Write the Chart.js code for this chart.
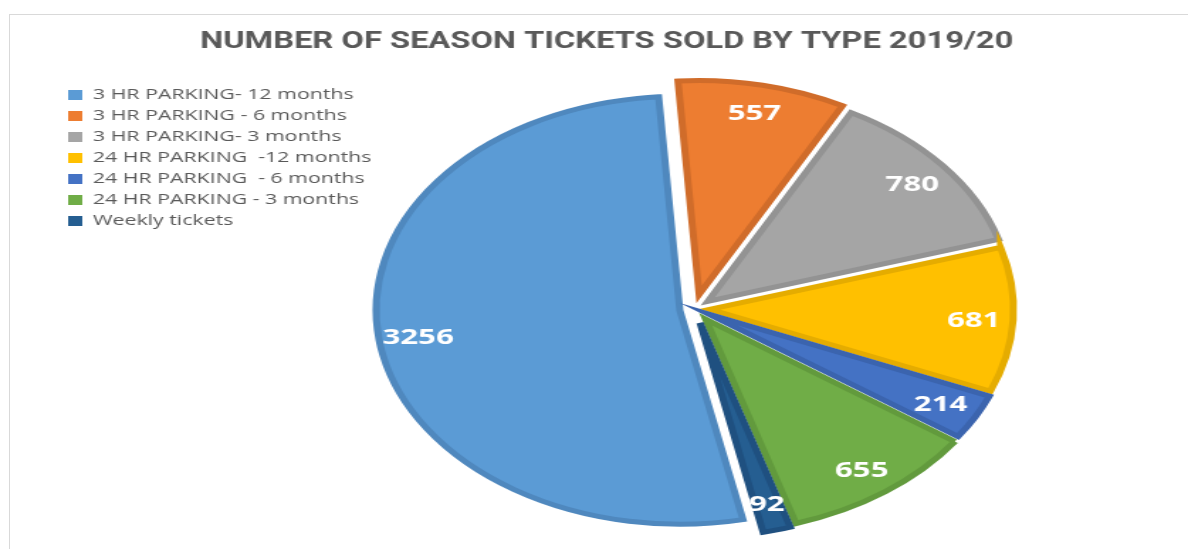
<!DOCTYPE html>
<html>
<head>
<meta charset="utf-8">
<script src="https://cdn.jsdelivr.net/npm/chart.js@4.4.1/dist/chart.umd.min.js"></script>
<style>
  html, body { margin: 0; padding: 0; background: #ffffff; width: 1188px; height: 549px; overflow: hidden; }
  #frame {
    position: absolute; left: 9px; top: 14px; width: 1300px; height: 700px;
    border-top: 1px solid #d9d9d9; border-left: 1px solid #d9d9d9;
  }
  /* the chart is laid out narrow and widened, giving the oval pie */
  #wrap {
    position: absolute; left: 0; top: 0; width: 837px; height: 549px;
    transform: scaleX(1.41935); transform-origin: 0 0;
  }
</style>
</head>
<body>
<div id="frame"></div>
<div id="wrap"><canvas id="chart"></canvas></div>
<script>
const chartTitle = 'NUMBER OF SEASON TICKETS SOLD BY TYPE 2019/20';

const ticketTypes = [
  '3 HR PARKING- 12 months',
  '3 HR PARKING - 6 months',
  '3 HR PARKING- 3 months',
  '24 HR PARKING  -12 months',
  '24 HR PARKING  - 6 months',
  '24 HR PARKING - 3 months',
  'Weekly tickets'
];

const ticketsSold = [3256, 557, 780, 681, 214, 655, 92];

const sliceColors = ['#5B9BD5', '#ED7D31', '#A5A5A5', '#FFC000', '#4472C4', '#70AD47', '#255E91'];
const sliceEdges  = ['#4F88BE', '#D06C2A', '#939393', '#E5AC00', '#3B64AE', '#629A3D', '#1F5080'];

const STRETCH = 1.41935;   // horizontal widening applied to the canvas
const EXPLODE = 15;        // on-screen distance each slice is pulled out
const LABEL_RADIUS = 0.87; // value labels sit near the rim

// shift that pulls a slice out along its middle angle, even once widened
function sliceShift(arc) {
  const p = arc.getProps(['startAngle', 'endAngle'], true);
  const mid = (p.startAngle + p.endAngle) / 2;
  const d = EXPLODE / Math.hypot(STRETCH * Math.cos(mid), Math.sin(mid));
  return { x: Math.cos(mid) * d, y: Math.sin(mid) * d, mid };
}

// draw every arc element moved outwards (an exploded pie)
const explodeSlices = {
  id: 'explodeSlices',
  beforeDatasetDraw(chart, args) {
    const ctx = chart.ctx;
    args.meta.data.forEach((arc) => {
      const s = sliceShift(arc);
      ctx.save();
      ctx.translate(s.x, s.y);
      arc.draw(ctx, chart.chartArea);
      ctx.restore();
    });
    return false;
  }
};

const sliceLabels = {
  id: 'sliceLabels',
  afterDatasetsDraw(chart) {
    const ctx = chart.ctx;
    const meta = chart.getDatasetMeta(0);
    const size = 22;
    ctx.save();
    ctx.font = 'bold ' + size + 'px "Open Sans"';
    ctx.fillStyle = '#ffffff';
    ctx.textAlign = 'center';
    ctx.textBaseline = 'alphabetic';
    meta.data.forEach((arc, i) => {
      const p = arc.getProps(['x', 'y', 'outerRadius'], true);
      const s = sliceShift(arc);
      const r = LABEL_RADIUS * p.outerRadius;
      // centre the digits' height on the anchor point
      ctx.fillText(String(ticketsSold[i]),
        p.x + s.x + Math.cos(s.mid) * r,
        p.y + s.y + Math.sin(s.mid) * r + size * 0.36);
    });
    ctx.restore();
  }
};

new Chart(document.getElementById('chart'), {
  type: 'pie',
  data: {
    labels: ticketTypes,
    datasets: [{
      data: ticketsSold,
      backgroundColor: sliceColors,
      borderColor: sliceEdges,
      borderWidth: 5,
      borderAlign: 'center',
      borderJoinStyle: 'miter',
      hoverOffset: 0
    }]
  },
  options: {
    responsive: true,
    maintainAspectRatio: false,
    animation: false,
    events: [],
    rotation: 168,
    radius: 214,
    layout: { padding: { left: 42, right: 123, top: 15, bottom: 13 } },
    plugins: {
      title: {
        display: true,
        text: chartTitle,
        align: 'end',
        color: '#595959',
        font: { family: 'Roboto', size: 23, weight: 'bold' },
        padding: { top: 13, bottom: 26 }
      },
      legend: {
        position: 'left',
        align: 'start',
        fullSize: false,
        maxWidth: 223,
        labels: {
          boxWidth: 10,
          boxHeight: 10,
          padding: 6,
          color: '#595959',
          font: { family: 'Open Sans', size: 15 },
          generateLabels: () => ticketTypes.map((text, i) => ({
            text,
            fillStyle: sliceColors[i],
            strokeStyle: sliceColors[i],
            lineWidth: 0,
            fontColor: '#595959',
            hidden: false,
            index: i
          }))
        }
      },
      tooltip: { enabled: false }
    }
  },
  plugins: [explodeSlices, sliceLabels]
});
</script>
</body>
</html>
